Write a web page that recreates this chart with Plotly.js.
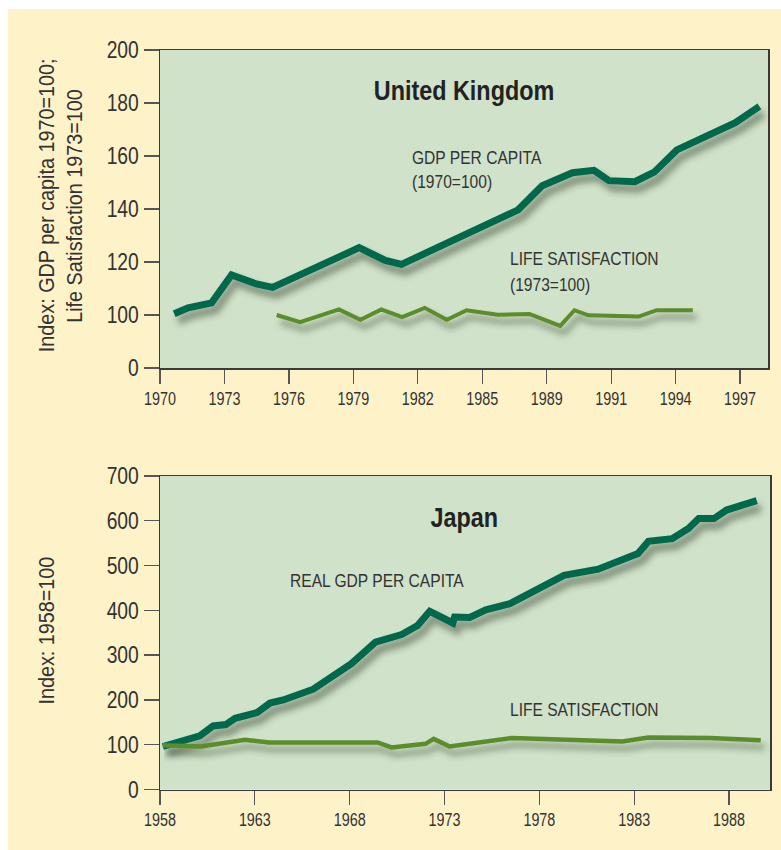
<!DOCTYPE html>
<html>
<head>
<meta charset="utf-8">
<script src="https://cdn.plot.ly/plotly-3.0.1.min.js"></script>
<style>
  html, body { margin: 0; padding: 0; background: #ffffff; }
  #chart { position: absolute; left: 8px; top: 9px; width: 773px; height: 841px; }
</style>
</head>
<body>
<div id="chart"></div>
<script>
// ---------- DATA ----------
// United Kingdom
const ukGdpYears  = [1970.66, 1971.31, 1972.40, 1973.33, 1974.49, 1975.24, 1979.27, 1980.49, 1981.24, 1982.36, 1985.54, 1986.67, 1987.79, 1989.2, 1990.2, 1990.9, 1992.1, 1993.0, 1994.06, 1994.9, 1996.78, 1997.9];
const ukGdpValues = [100.5, 102.7, 104.6, 115.1, 111.7, 110.4, 125.4, 120.6, 119.1, 123.2, 135.2, 139.7, 148.8, 153.7, 154.6, 150.7, 150.3, 153.9, 162.3, 165.5, 172.6, 178.7];
const ukLifeYears  = [1975.43, 1976.52, 1978.33, 1979.33, 1980.3, 1981.27, 1982.32, 1983.35, 1984.27, 1985.73, 1987.19, 1988.63, 1989.29, 1989.94, 1992.28, 1993.12, 1994.8];
const ukLifeValues = [100, 97.3, 102.1, 98.2, 102.1, 99.2, 102.7, 98.2, 101.8, 100.1, 100.4, 95.9, 101.8, 99.9, 99.4, 101.8, 101.8];
// Japan
const jpGdpYears  = [1958.15, 1960.1, 1960.8, 1961.47, 1961.96, 1963.12, 1963.8, 1964.5, 1966.08, 1968.09, 1969.36, 1970.74, 1971.58, 1972.22, 1973.44, 1973.53, 1974.33, 1974.92, 1975.18, 1976.45, 1977.93, 1979.3, 1981.1, 1981.95, 1983.2, 1983.75, 1985.0, 1985.86, 1986.4, 1987.2, 1987.87, 1989.46];
const jpGdpValues = [96, 120, 142, 145, 159, 172, 193, 200, 224, 281, 329, 346, 366, 398, 372, 385, 384, 393, 401, 415, 448, 478, 492, 507, 527, 554, 560, 583, 605, 605, 624, 645];
const jpLifeYears  = [1958.15, 1960.16, 1962.48, 1963.75, 1969.47, 1970.2, 1972.0, 1972.43, 1973.27, 1976.55, 1982.37, 1983.75, 1987.0, 1989.67];
const jpLifeValues = [99, 96, 111, 105, 105, 94, 102, 113, 96, 115, 107, 116, 115, 110];

// Tick labels
const ukXTickVals  = [1970, 1973, 1976, 1979, 1982, 1985, 1988, 1991, 1994, 1997];
const ukXTickText  = ['1970', '1973', '1976', '1979', '1982', '1985', '1989', '1991', '1994', '1997'];
const ukYTickVals  = [80, 100, 120, 140, 160, 180, 200];   // broken axis: bottom tick stands for 0
const ukYTickText  = ['0', '100', '120', '140', '160', '180', '200'];
const jpXTickVals  = [1958, 1963, 1968, 1973, 1978, 1983, 1988];
const jpYTickVals  = [0, 100, 200, 300, 400, 500, 600, 700];

// ---------- STYLE ----------
const FONT = '"Liberation Sans", Arial, Helvetica, sans-serif';
const NARROW = 0.82;   // emulate a condensed face
const TXT = '#333333';
const GDP_COLOR = '#00694b';
const LIFE_COLOR = '#5b8d2b';
const SHADOW = 'rgba(45,60,40,0.45)';
const W = 773, H = 841, OX = 8, OY = 9;
const px = x => (x - OX) / W;
const py = y => 1 - (y - OY) / H;

function line(x, y, color, width, xa, ya, name) {
  return { x: x, y: y, type: 'scatter', mode: 'lines', name: name,
           line: { color: color, width: width, shape: 'linear' },
           xaxis: xa, yaxis: ya, hoverinfo: 'skip', showlegend: false };
}

const traces = [
  line(ukGdpYears, ukGdpValues, SHADOW, 9, 'x', 'y', 'shadow'),
  line(ukLifeYears, ukLifeValues, SHADOW, 5, 'x', 'y', 'shadow'),
  line(jpGdpYears, jpGdpValues, SHADOW, 9, 'x2', 'y2', 'shadow'),
  line(jpLifeYears, jpLifeValues, SHADOW, 5, 'x2', 'y2', 'shadow'),
  line(ukGdpYears, ukGdpValues, GDP_COLOR, 7, 'x', 'y', 'uk-gdp'),
  line(ukLifeYears, ukLifeValues, LIFE_COLOR, 4, 'x', 'y', 'uk-life'),
  line(jpGdpYears, jpGdpValues, GDP_COLOR, 7, 'x2', 'y2', 'jp-gdp'),
  line(jpLifeYears, jpLifeValues, LIFE_COLOR, 4.5, 'x2', 'y2', 'jp-life')
];

const axisCommon = {
  showgrid: false, zeroline: false, showline: true, mirror: true,
  linecolor: '#3a3a3a', linewidth: 1.5,
  ticks: 'outside', tickcolor: '#555555', tickwidth: 1.3,
  fixedrange: true
};

function ann(text, x, y, size, opts) {
  return Object.assign({
    text: text, xref: 'paper', yref: 'paper', x: px(x), y: py(y),
    xanchor: 'left', yanchor: 'middle', showarrow: false,
    font: { family: FONT, size: size, color: TXT }
  }, opts || {});
}
const titleFont = { family: FONT, size: 28.5, color: '#222222', weight: 'bold' };

const layout = {
  width: W, height: H,
  margin: { l: 0, r: 0, t: 0, b: 0 },
  paper_bgcolor: '#fef2c9',
  plot_bgcolor: '#d0e2c9',
  showlegend: false,
  xaxis: Object.assign({}, axisCommon, {
    domain: [px(160), px(768)], range: [1970, 1998.3], anchor: 'y',
    tickmode: 'array', tickvals: ukXTickVals, ticktext: ukXTickText, ticklen: 14,
    tickfont: { family: FONT, size: 17.5, color: TXT }
  }),
  yaxis: Object.assign({}, axisCommon, {
    domain: [py(368), py(50)], range: [80, 200], anchor: 'x',
    tickmode: 'array', tickvals: ukYTickVals, ticktext: ukYTickText, ticklen: 15,
    tickfont: { family: FONT, size: 23.5, color: TXT }
  }),
  xaxis2: Object.assign({}, axisCommon, {
    domain: [px(160), px(770)], range: [1958, 1990.16], anchor: 'y2',
    tickmode: 'array', tickvals: jpXTickVals, ticktext: jpXTickVals.map(String), ticklen: 14,
    tickfont: { family: FONT, size: 17.5, color: TXT }
  }),
  yaxis2: Object.assign({}, axisCommon, {
    domain: [py(789.5), py(476)], range: [0, 700], anchor: 'x2',
    tickmode: 'array', tickvals: jpYTickVals, ticktext: jpYTickVals.map(String), ticklen: 15,
    tickfont: { family: FONT, size: 23.5, color: TXT }
  }),
  annotations: [
    ann('United Kingdom', 464, 90, 28.5, { xanchor: 'center', font: titleFont }),
    ann('GDP PER CAPITA', 410, 157, 19),
    ann('(1970=100)', 410, 181, 19),
    ann('LIFE SATISFACTION', 508, 258, 19),
    ann('(1973=100)', 508, 284, 19),
    ann('Japan', 464, 517, 28.5, { xanchor: 'center', font: titleFont }),
    ann('REAL GDP PER CAPITA', 288, 580, 19),
    ann('LIFE SATISFACTION', 508, 709, 19),
    ann('Index: GDP per capita 1970=100;', 47, 206, 21.5, { xanchor: 'center', textangle: -90, narrow: 0.92 }),
    ann('Life Satisfaction 1973=100', 75, 206, 21.5, { xanchor: 'center', textangle: -90, narrow: 0.92 }),
    ann('Index: 1958=100', 47, 631, 21.5, { xanchor: 'center', textangle: -90, narrow: 0.92 })
  ]
};
// 'narrow' is our own key: strip it before plotting
const narrowByIndex = layout.annotations.map(a => { const n = a.narrow || NARROW; delete a.narrow; return n; });

function narrowText(el, factor) {
  const k = factor || NARROW;
  const len = el.getComputedTextLength();
  if (!(len > 0)) return 0;
  el.setAttribute('textLength', (len * k).toFixed(2));
  el.setAttribute('lengthAdjust', 'spacingAndGlyphs');
  return len * (1 - k);
}

Plotly.newPlot('chart', traces, layout, { staticPlot: true, displayModeBar: false }).then(function (gd) {
  const svg = gd.querySelector('svg.main-svg');
  const ns = 'http://www.w3.org/2000/svg';
  let defs = svg.querySelector('defs');
  if (!defs) { defs = document.createElementNS(ns, 'defs'); svg.insertBefore(defs, svg.firstChild); }
  const f = document.createElementNS(ns, 'filter');
  f.setAttribute('id', 'shadowblur');
  f.setAttribute('filterUnits', 'userSpaceOnUse');
  f.setAttribute('x', '0'); f.setAttribute('y', '0');
  f.setAttribute('width', '900'); f.setAttribute('height', '900');
  const b = document.createElementNS(ns, 'feGaussianBlur');
  b.setAttribute('stdDeviation', '3');
  f.appendChild(b);
  defs.appendChild(f);
  gd.querySelectorAll('g.trace.scatter').forEach(function (g) {
    const d = g.__data__;
    const tr = d && d[0] && d[0].trace;
    if (tr && tr.name === 'shadow') {
      g.setAttribute('transform', 'translate(4,7)');
      g.setAttribute('filter', 'url(#shadowblur)');
    }
  });
  // condensed look for tick labels
  gd.querySelectorAll('g.xtick text, g.ytick text, g.x2tick text, g.y2tick text').forEach(function (t) { narrowText(t); });
  // annotations
  gd.querySelectorAll('g.annotation').forEach(function (g) {
    const idx = +g.getAttribute('data-index');
    const a = gd.layout.annotations[idx];
    const t = g.querySelector('text.annotation-text') || g.querySelector('text');
    if (!t) return;
    const shrink = narrowText(t, narrowByIndex[idx]);
    if (a && a.xanchor === 'left' && !a.textangle) {
      t.setAttribute('transform', 'translate(' + (-shrink / 2).toFixed(2) + ',0)');
    }
  });
});
</script>
</body>
</html>
